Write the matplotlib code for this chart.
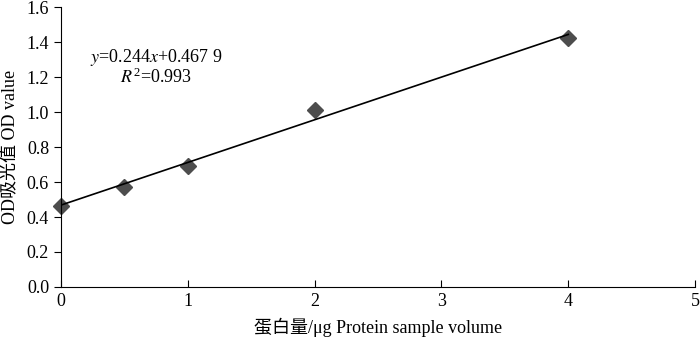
import numpy as np
import matplotlib.pyplot as plt

plt.rcParams['font.family'] = ['Liberation Serif', 'Noto Sans CJK SC']
plt.rcParams['mathtext.fontset'] = 'stix'

# protein amount (ug) vs OD
protein = [0, 0.5, 1, 2, 4]
od = [0.465, 0.573, 0.69, 1.013, 1.424]
slope = 0.244
intercept = 0.4679
eq_text = r'$y$=0.244$x$+0.467 9'
r2_text = r'$R^{\mathregular{2}}$=0.993'

fig = plt.figure(figsize=(7, 3.4), dpi=100)
ax = fig.add_axes([0.087, 0.156, 0.906, 0.823])

xfit = np.array([min(protein), max(protein)])
ax.plot(xfit, slope * xfit + intercept, color='black', lw=1.2, zorder=3)
ax.plot(protein, od, linestyle='none', marker='D', markersize=8,
        color='#4d4d4d', zorder=2, clip_on=False)

ax.set_xlim(0, 5)
ax.set_ylim(0, 1.6)
ax.set_xticks(range(0, 6))
ax.set_yticks(np.arange(0, 1.61, 0.2))
ax.set_yticklabels([f'{v:.1f}' for v in np.arange(0, 1.61, 0.2)])
ax.spines['top'].set_visible(False)
ax.spines['right'].set_visible(False)
ax.tick_params(axis='x', direction='in', length=5, labelsize=13, pad=4)
ax.tick_params(axis='y', direction='out', length=5, labelsize=13)

ax.set_xlabel('蛋白量/μg Protein sample volume', fontsize=13, labelpad=6)
ax.set_ylabel('OD吸光值 OD value', fontsize=13, labelpad=6)

ax.text(0.75, 1.314, eq_text, ha='center', va='center', fontsize=13)
ax.text(0.75, 1.2, r2_text, ha='center', va='center', fontsize=13)

fig.savefig('out.png', dpi=100)
